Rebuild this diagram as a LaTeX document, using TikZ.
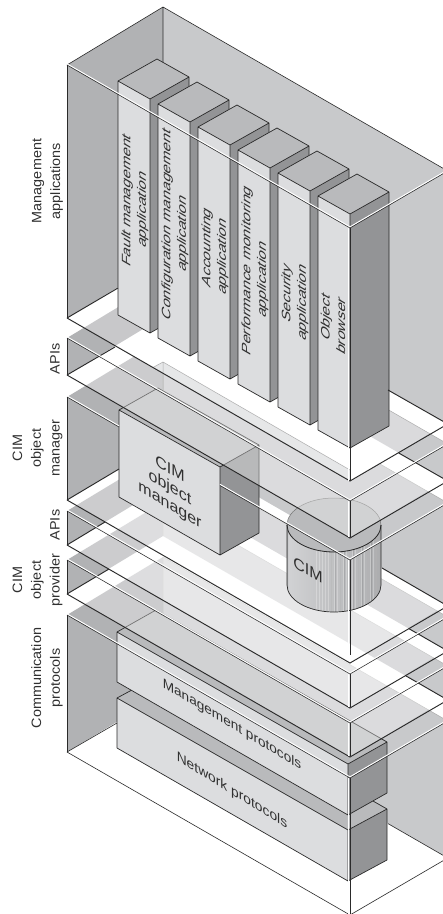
\documentclass[tikz,border=0pt]{standalone}
\usepackage{fontspec}
\setmainfont{Liberation Sans}
\definecolor{wallL}{HTML}{B1B2B4}
\definecolor{wallB}{HTML}{C8C9CB}
\definecolor{wallLp}{HTML}{C8C8CA}
\definecolor{wallBp}{HTML}{DADADC}
\definecolor{pale}{HTML}{E6E7E8}
\definecolor{faceF}{HTML}{DCDDDF}
\definecolor{faceT}{HTML}{B9BABC}
\definecolor{faceS}{HTML}{939496}
\definecolor{ink}{HTML}{2A2A2A}
\definecolor{txt}{HTML}{303030}
\pgfdeclarehorizontalshading{cylshade}{100bp}{color(0bp)=(faceS); color(12bp)=(faceS!70!white); color(25bp)=(faceT!92!black); color(25.5bp)=(faceF!95!black); color(45bp)=(faceF!88!black); color(62bp)=(faceT); color(88bp)=(faceT!85!black); color(100bp)=(faceS!90!black)}
\newcommand{\leftwall}[3]{\fill[#3] (67,#1)--(163,#1-58)--(163,#2-58)--(67,#2)--cycle;}
\newcommand{\backwall}[3]{\fill[#3] (163,#1-58)--(446,#1+105)--(446,#2+105)--(163,#2-58)--cycle;
  \draw[faint] (163,#1-58)--(446,#1+105) (163,#1-58)--(163,#2-58);}
\newcommand{\floorpath}[1]{(67,#1)--(163,#1-58)--(446,#1+105)--(350,#1+163)--cycle}
\newcommand{\glass}[1]{\fill[white,fill opacity=.35] \floorpath{#1};}
\newcommand{\veeline}[1]{(67,#1)--(350,#1+163)--(446,#1+107)}
\newcommand{\dbl}[1]{\draw[white,line width=1.1pt,yshift=1.1pt] #1; \draw[ink,line width=.55pt] #1;}
\newcommand{\block}[8]{% left top, front top, right top; height L, height R
  \fill[faceT] (#1,#2)--(#3,#4)--(#5,#6)--(#1+#5-#3,#2+#6-#4)--cycle;
  \fill[faceF] (#1,#2)--(#3,#4)--(#3,#4+#8)--(#1,#2+#7)--cycle;
  \fill[faceS] (#3,#4)--(#5,#6)--(#5,#6+#8)--(#3,#4+#8)--cycle;
  \draw[boxline] (#1,#2)--(#3,#4)--(#5,#6)--(#1+#5-#3,#2+#6-#4)--cycle
    (#1,#2)--(#1,#2+#7)--(#3,#4+#8)--(#5,#6+#8)--(#5,#6) (#3,#4)--(#3,#4+#8);}
\tikzset{
  faint/.style={draw=black!32,line width=.5pt},
  boxline/.style={draw=ink,line width=.7pt,line join=round},
  boldedge/.style={draw=ink,line width=.95pt},
  thinedge/.style={draw=ink,line width=.6pt},
  lab/.style={text=txt,align=center,font=\fontsize{13.6}{18.7}\selectfont,inner sep=0pt,cm={0,1.06,-1,0,(0,0)}},
  collab/.style={text=txt,align=center,font=\fontsize{12.2}{15.5}\selectfont,inner sep=0pt,cm={0,1.29,-1,0.576,(0,0)}}
}
\begin{document}
\begin{tikzpicture}[x=1pt,y=-1pt]
\useasboundingbox (0,0) rectangle (443,914);
\clip (0,0) rectangle (443,914);
\fill[white] (0,0) rectangle (443,914);
% communication layer
\leftwall{615}{752}{wallL}
\backwall{615}{752}{wallB}
\block{117}{698}{348}{830}{387}{809}{50}{51}
\block{117}{632}{348}{764}{387}{742}{50}{51}
\glass{594}
% object provider layer
\leftwall{560}{594}{wallL}
\backwall{560}{594}{wallB}
\glass{545}
% second API layer
\leftwall{511}{545}{wallL}
\backwall{511}{545}{wallB}
\glass{500}
% object manager layer
\leftwall{397}{500}{wallL}
\backwall{397}{500}{wallB}
\block{119}{410}{220}{467}{259}{445}{87}{88}
% repository
\draw[black!55,line width=.5pt,fill=faceT] (334,525) ellipse [x radius=47pt,y radius=27pt];
\begin{scope}
\clip (287,525)--(287,585) arc[start angle=180,end angle=360,x radius=47pt,y radius=27pt]--(381,525) arc[start angle=0,end angle=-180,x radius=47pt,y radius=27pt]--cycle;
\shade[shading=cylshade] (287,490) rectangle (381,620);
\foreach \sx in {316,319,...,378}{\draw[white,opacity=.28,line width=.5pt] (\sx,530)--(\sx,615);}
\foreach \sx in {331,335.5,...,378}{\draw[black,opacity=.1,line width=.5pt] (\sx,530)--(\sx,615);}
\end{scope}
\glass{375}
% first API layer
\leftwall{338}{375}{wallL}
\backwall{338}{375}{wallB}
% floor of the applications layer
\fill[white] \floorpath{318};
\fill[pale] (153,367.5)--(163,362)--(350,470)--(350,481)--cycle;
\draw[faint] (153,367.5)--(163,362)--(350,470) (163,362)--(163,390);
\begin{scope}
\clip \floorpath{318};
\leftwall{338}{375}{wallLp}
\backwall{338}{375}{wallBp}
\end{scope}
% applications layer
\leftwall{65}{318}{wallL}
\fill[wallB] (163,7)--(446,170)--(446,423)--(163,260)--cycle;
\draw[thinedge] (67,65)--(163,7)--(446,170) (163,7)--(163,260);
\foreach \ci in {0,...,5}{
  \pgfmathsetmacro{\ax}{118+40*\ci}
  \pgfmathsetmacro{\ay}{81+23*\ci}
  \pgfmathsetmacro{\bx}{\ax+32}
  \pgfmathsetmacro{\by}{\ay+18}
  \pgfmathsetmacro{\cx}{\bx+39}
  \pgfmathsetmacro{\cy}{\by-22}
  \block{\ax}{\ay}{\bx}{\by}{\cx}{\cy}{234}{234}
}
% floor edges and wall edges
\draw[boldedge] (67,318)--(118,288) (388,390)--(446,423);
\draw[boldedge] (67,375)--(115,347) (398.7,453)--(446,480);
\draw[boldedge] (67,500)--(119,469) (382,568)--(446,605);
\draw[boldedge] (67,545)--(105,522) (409,628.7)--(446,650);
\draw[boldedge] (67,594)--(109,569) (405.6,675.7)--(446,699);
\draw[thinedge] (67,752)--(117,723) (388,823.6)--(446,857);
\foreach \va/\vb in {65/318,338/375,397/500,511/545,560/594,615/752}{\draw[thinedge] (67,\va)--(67,\vb);}
\draw[ink,line width=.7pt] (287,525)--(287,585) arc[start angle=180,end angle=360,x radius=47pt,y radius=27pt]--(381,525);
\draw[ink,line width=.8pt] (287,525) arc[start angle=180,end angle=360,x radius=47pt,y radius=27pt];
\draw[boldedge] \veeline{318};
\draw[boldedge] \veeline{375};
\draw[boldedge] \veeline{500};
\draw[boldedge] \veeline{545};
\draw[boldedge] \veeline{594};
\draw[thinedge] \veeline{752};
\dbl{\veeline{65}}
\dbl{\veeline{338}}
\dbl{(67,397)--(119,427)}
\dbl{(220,485.5)--(350,560)--(446,504)}
\dbl{\veeline{511}}
\dbl{\veeline{560}}
\dbl{\veeline{615}}
\foreach \va/\vb in {228/481,501/537,560/655,674/707,723/756,778/914}{
  \draw[white,line width=1pt] (348.9,\va)--(348.9,\vb);
  \draw[ink,line width=.55pt] (350,\va)--(350,\vb);
}
% left labels
\node[lab] (lma) at (47.5,181) {Management\\applications};
\node[lab] (lap) at (55,359) {APIs};
\node[lab] (lcm) at (37.5,448) {CIM\\object\\manager};
\node[lab] (lap2) at (55,525) {APIs};
\node[lab] (lcp) at (37.5,580) {CIM\\object\\provider};
\node[lab] (lco) at (47,678) {Communication\\protocols};
% column labels
\node[collab] (c1) at (135,205) {Fault management\\application};
\node[collab] (c2) at (175,229) {Configuration management\\application};
\node[collab] (c3) at (215,252) {Accounting\\application};
\node[collab] (c4) at (255,275) {Performance monitoring\\application};
\node[collab] (c5) at (295,298) {Security\\application};
\node[collab] (c6) at (333,321) {Object\\browser};
% block labels
\node[text=txt,align=center,inner sep=0pt,font=\fontsize{16}{18}\selectfont,cm={1,-.6,0,1,(0,0)}] (bm) at (170,488) {CIM\\object\\manager};
\node[text=txt,inner sep=0pt,font=\fontsize{16}{18}\selectfont,cm={1,-.55,0,1,(0,0)}] (bc) at (308,570) {CIM};
\node[text=txt,inner sep=0pt,font=\fontsize{13.6}{16}\selectfont,cm={1,-.6,0,1,(0,0)}] (bp1) at (232,725) {Management protocols};
\node[text=txt,inner sep=0pt,font=\fontsize{13.8}{16}\selectfont,cm={1,-.62,0,1,(0,0)}] (bp2) at (232,791) {Network protocols};
\end{tikzpicture}
\end{document}
